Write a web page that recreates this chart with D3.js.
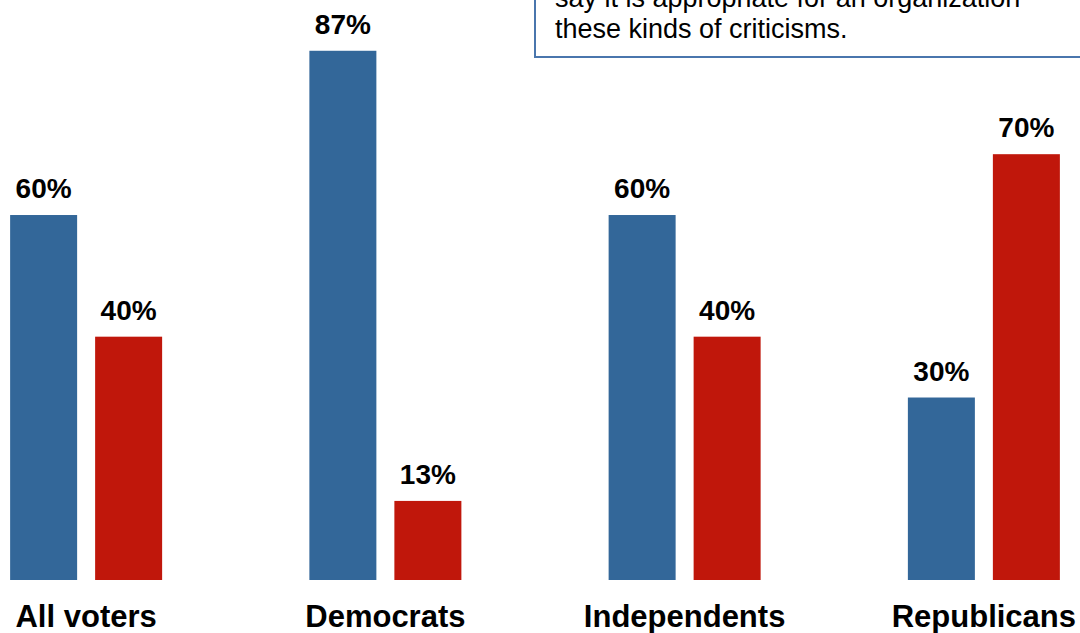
<!DOCTYPE html>
<html>
<head>
<meta charset="utf-8">
<script src="https://cdn.jsdelivr.net/npm/d3@7"></script>
<style>
  html, body { margin: 0; padding: 0; background: #ffffff; }
  svg { display: block; }
</style>
</head>
<body>
<svg id="chart" width="1080" height="633"></svg>
<script>
const categories = ["All voters", "Democrats", "Independents", "Republicans"];
const seriesNames = ["Appropriate", "Not appropriate"];
const appropriate = [60, 87, 60, 30];
const notAppropriate = [40, 13, 40, 70];
const boxLines = ["say it is appropriate for an organization", "these kinds of criticisms."];

const colors = ["#336799", "#c0170b"];
const svg = d3.select("#chart");

const x0 = d3.scaleBand().domain(categories).range([-63.5, 1133.5]).paddingInner(0).paddingOuter(0);
const x1 = d3.scaleBand().domain(seriesNames).range([0, 152]).paddingInner(18 / 85).paddingOuter(0);
const y = d3.scaleLinear().domain([0, 100]).range([580, -28.3]);

const data = categories.map((c, i) => ({
  cat: c,
  vals: [
    { s: seriesNames[0], v: appropriate[i] },
    { s: seriesNames[1], v: notAppropriate[i] }
  ]
}));

const groups = svg.selectAll("g.grp").data(data).join("g")
  .attr("class", "grp")
  .attr("transform", d => `translate(${x0(d.cat) + x0.bandwidth() / 2 - 76},0)`);

groups.selectAll("rect").data(d => d.vals).join("rect")
  .attr("x", d => x1(d.s))
  .attr("width", x1.bandwidth())
  .attr("y", d => y(d.v))
  .attr("height", d => y(0) - y(d.v))
  .attr("fill", (d, i) => colors[i]);

groups.selectAll("text.val").data(d => d.vals).join("text")
  .attr("class", "val")
  .attr("x", d => x1(d.s) + x1.bandwidth() / 2)
  .attr("y", d => y(d.v) - 17)
  .attr("text-anchor", "middle")
  .style("font-family", "Arial, 'Liberation Sans', sans-serif")
  .style("font-weight", "bold")
  .style("font-size", "28px")
  .attr("fill", "#000")
  .text(d => d.v + "%");

svg.selectAll("text.cat").data(categories).join("text")
  .attr("class", "cat")
  .attr("x", d => x0(d) + x0.bandwidth() / 2)
  .attr("y", 627)
  .attr("text-anchor", "middle")
  .style("font-family", "Arial, 'Liberation Sans', sans-serif")
  .style("font-weight", "bold")
  .style("font-size", "31px")
  .attr("fill", "#000")
  .text(d => d);

// Annotation box (partially off-canvas)
svg.append("rect")
  .attr("x", 535).attr("y", -60)
  .attr("width", 600).attr("height", 117)
  .attr("fill", "#ffffff")
  .attr("stroke", "#4a76ad")
  .attr("stroke-width", 2);

svg.selectAll("text.box").data(boxLines).join("text")
  .attr("class", "box")
  .attr("x", 555)
  .attr("y", (d, i) => 7 + i * 31)
  .style("font-family", "Arial, 'Liberation Sans', sans-serif")
  .style("font-size", "27px")
  .attr("fill", "#000")
  .text(d => d);
</script>
</body>
</html>
